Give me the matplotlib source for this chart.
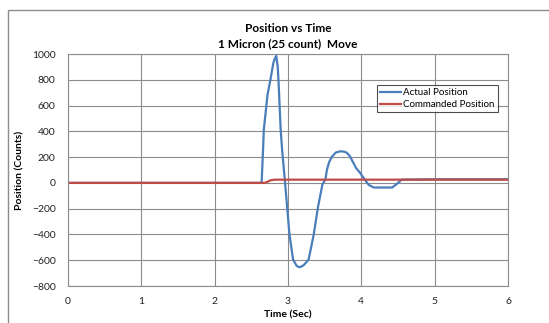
import matplotlib
matplotlib.use("Agg")
import matplotlib.pyplot as plt
from matplotlib.patches import Rectangle

plt.rcParams['font.family'] = ['Lato', 'DejaVu Sans']

# actual (measured) position, counts
t_actual = [0, 2.5, 2.64, 2.66, 2.67, 2.72, 2.76, 2.80, 2.82, 2.84, 2.86, 2.87, 2.90, 2.92,
            2.96, 3.02, 3.07, 3.12, 3.16, 3.21, 3.28, 3.35, 3.41, 3.47, 3.51, 3.53, 3.56,
            3.60, 3.65, 3.71, 3.76, 3.80, 3.84, 3.87, 3.93, 3.98, 4.05, 4.10, 4.17,
            4.30, 4.42, 4.48, 4.55, 5.0, 6.0]
pos_actual = [0, 0, 0, 256, 411, 680, 800, 930, 965, 985, 900, 800, 411, 256,
              0, -400, -597, -645, -655, -640, -597, -403, -184, -10, 25, 100, 160,
              204, 235, 245, 243, 235, 210, 178, 114, 80, 23, -15, -36,
              -36, -36, -10, 25, 28, 28]

# commanded position, counts
t_cmd = [0, 2.68, 2.72, 2.76, 2.82, 6.0]
pos_cmd = [0, 0, 8, 20, 25, 25]

fig = plt.figure(figsize=(5.49, 3.23), dpi=100)
ax = fig.add_axes([68 / 549, 1 - 286 / 323, 440 / 549, 232 / 323])

# outer chart frame
fig.patches.append(Rectangle((8 / 549, -0.1), 1.2, 1.1 - 10 / 323, transform=fig.transFigure,
                             fill=False, edgecolor='#8c8c8c', linewidth=1.0))

ax.plot(t_actual, pos_actual, color='#4a7ebb', linewidth=1.6, label='Actual Position')
ax.plot(t_cmd, pos_cmd, color='#be4b48', linewidth=1.6, label='Commanded Position')

ax.set_xlim(0, 6)
ax.set_ylim(-800, 1000)
ax.set_xticks(range(0, 7))
ax.set_yticks(range(-800, 1001, 200))
ax.grid(True, color='#8c8c8c', linewidth=0.8)
ax.set_axisbelow(True)
for s in ax.spines.values():
    s.set_color('#8c8c8c')
    s.set_linewidth(0.8)
ax.tick_params(length=0, labelsize=7.5, colors='#222222', pad=9)
ax.tick_params(axis='x', pad=8)

ax.set_xlabel('Time (Sec)', fontsize=7.5, fontweight='bold', labelpad=3)
ax.set_ylabel('Position (Counts)', fontsize=7.5, fontweight='bold', labelpad=5)
ax.set_title('Position vs Time\n1 Micron (25 count)  Move', fontsize=8.5,
             fontweight='bold', linespacing=1.5, pad=5)

leg = ax.legend(loc='upper left', bbox_to_anchor=(309 / 440, 1 - 31 / 232),
                fontsize=7, frameon=True, fancybox=False, handlelength=2.2,
                handletextpad=0.2, borderpad=0.3, labelspacing=0.35, borderaxespad=0)
leg.get_frame().set_edgecolor('#222222')
leg.get_frame().set_linewidth(0.8)

fig.savefig('out.png', dpi=100)
